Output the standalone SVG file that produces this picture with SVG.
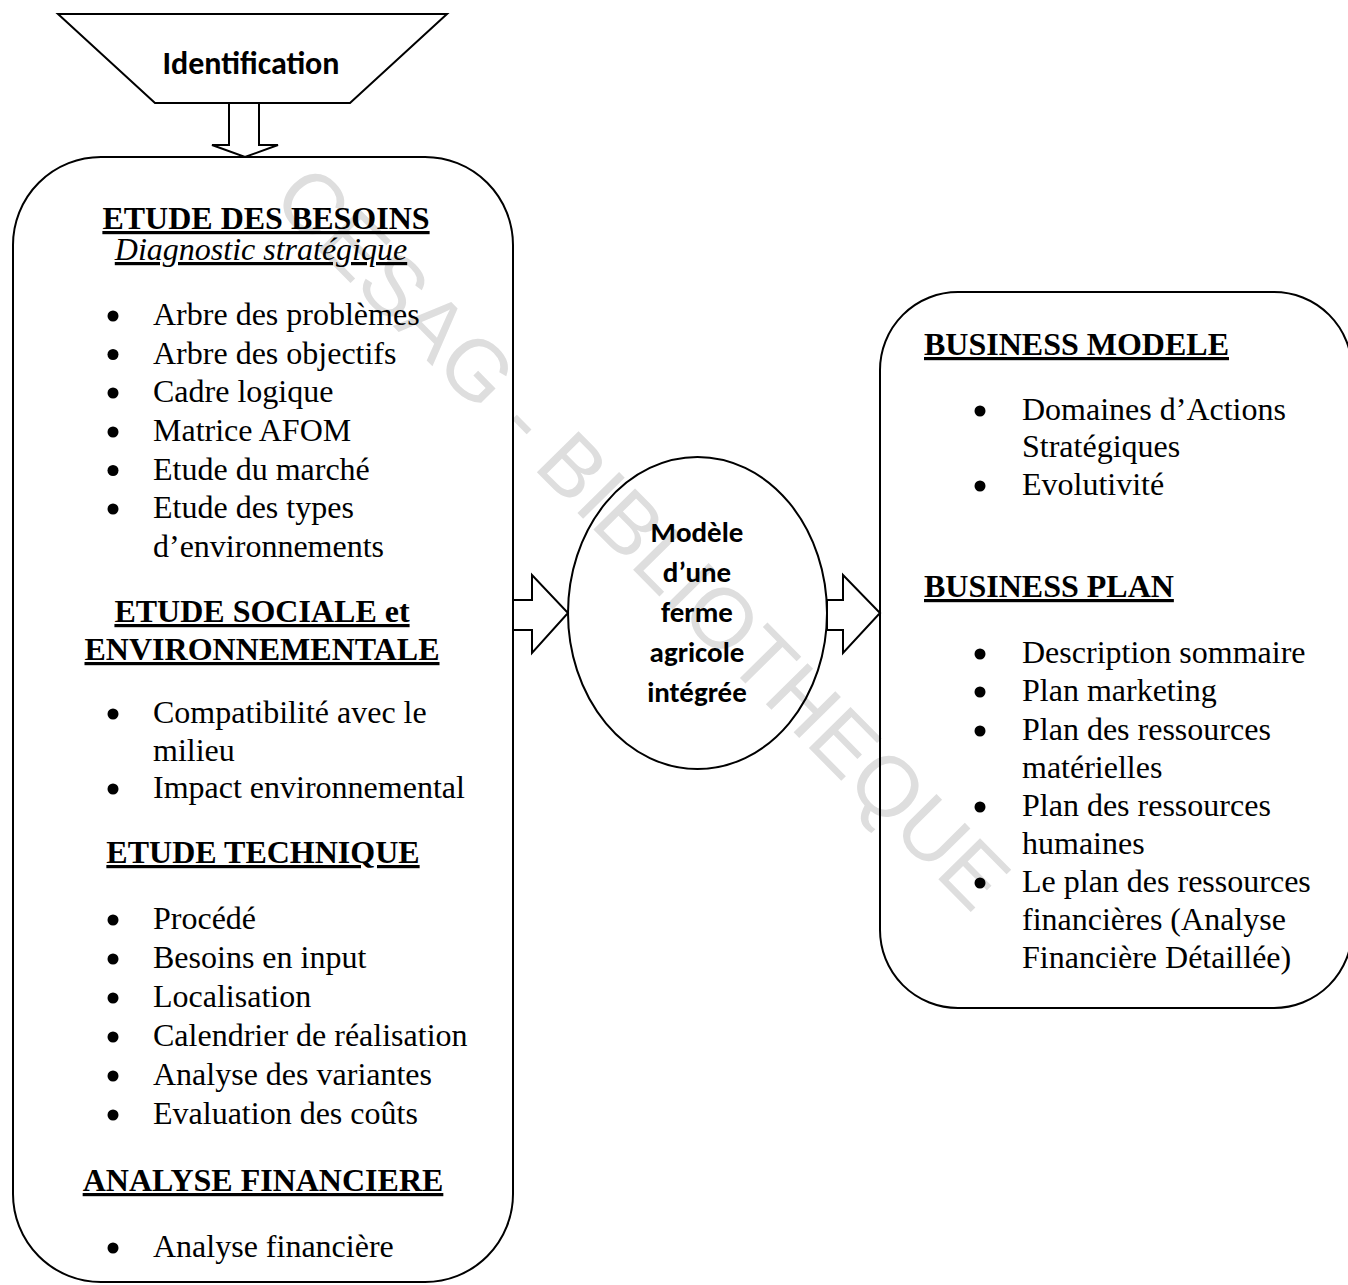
<svg xmlns="http://www.w3.org/2000/svg" width="1348" height="1285" viewBox="0 0 1348 1285">
<style>
.shape{fill:none;stroke:#000;stroke-width:2;stroke-linejoin:miter}
.t{font-family:'Liberation Serif','Times New Roman',serif;font-size:32px;fill:#000}
.h{font-family:'Liberation Serif','Times New Roman',serif;font-size:32px;font-weight:bold;text-decoration:underline;fill:#000}
.hi{font-family:'Liberation Serif','Times New Roman',serif;font-size:32px;font-style:italic;text-decoration:underline;fill:#000}
.s{font-family:Carlito,Lato,'Open Sans',sans-serif;font-weight:bold;fill:#000;text-anchor:middle}
.c{text-anchor:middle}
.wm{font-family:'Liberation Sans',Arial,sans-serif;font-size:85px;fill:#dedede;text-anchor:middle}
</style>
<defs>
<circle id="b" r="5.5" fill="#000"/>
</defs>
<rect x="0" y="0" width="1348" height="1285" fill="#fff"/>
<g id="watermark">
<text class="wm" transform="translate(643,537) rotate(45.4)" x="0" y="30">CESAG - BIBLIOTHEQUE</text>
</g>
<g id="connectors">
<polygon class="shape" points="229,103 259,103 259,145 278,145 245,157 212,145 229,145"/>
<polygon class="shape" points="513,600 532,600 532,575 568,613 532,653 532,630 513,630"/>
<polygon class="shape" points="827,600 843,600 843,575 880,613 843,653 843,630 827,630"/>
</g>
<g id="identification">
<polygon class="shape" points="58,14 447,14 350,103 155,103"/>
<text class="s" x="251" y="74" font-size="32">Identification</text>
</g>
<g id="etudes">
<rect class="shape" x="13" y="157" width="500" height="1125" rx="88" ry="88"/>
<text class="h c" x="266" y="229">ETUDE DES BESOINS</text>
<text class="hi c" x="261" y="260">Diagnostic stratégique</text>
<use href="#b" x="113" y="316"/><text class="t" x="153" y="325">Arbre des problèmes</text>
<use href="#b" x="113" y="354.5"/><text class="t" x="153" y="363.5">Arbre des objectifs</text>
<use href="#b" x="113" y="393"/><text class="t" x="153" y="402">Cadre logique</text>
<use href="#b" x="113" y="432"/><text class="t" x="153" y="441">Matrice AFOM</text>
<use href="#b" x="113" y="470.5"/><text class="t" x="153" y="479.5">Etude du marché</text>
<use href="#b" x="113" y="509"/><text class="t" x="153" y="518">Etude des types</text>
<text class="t" x="153" y="556.5">d’environnements</text>
<text class="h c" x="262" y="622">ETUDE SOCIALE et</text>
<text class="h c" x="262" y="660">ENVIRONNEMENTALE</text>
<use href="#b" x="113" y="714"/><text class="t" x="153" y="723">Compatibilité avec le</text>
<text class="t" x="153" y="760.5">milieu</text>
<use href="#b" x="113" y="789"/><text class="t" x="153" y="798">Impact environnemental</text>
<text class="h c" x="263" y="863">ETUDE TECHNIQUE</text>
<use href="#b" x="113" y="920"/><text class="t" x="153" y="929">Procédé</text>
<use href="#b" x="113" y="959"/><text class="t" x="153" y="968">Besoins en input</text>
<use href="#b" x="113" y="998"/><text class="t" x="153" y="1007">Localisation</text>
<use href="#b" x="113" y="1037"/><text class="t" x="153" y="1046">Calendrier de réalisation</text>
<use href="#b" x="113" y="1076"/><text class="t" x="153" y="1085">Analyse des variantes</text>
<use href="#b" x="113" y="1115"/><text class="t" x="153" y="1124">Evaluation des coûts</text>
<text class="h c" x="263" y="1191">ANALYSE FINANCIERE</text>
<use href="#b" x="113" y="1248"/><text class="t" x="153" y="1257">Analyse financière</text>
</g>
<g id="modele">
<ellipse class="shape" cx="697.5" cy="613" rx="129.5" ry="156"/>
<text class="s" x="697" y="542" font-size="29">Modèle</text>
<text class="s" x="697" y="582" font-size="29">d’une</text>
<text class="s" x="697" y="622" font-size="29">ferme</text>
<text class="s" x="697" y="662" font-size="29">agricole</text>
<text class="s" x="697" y="702" font-size="29">intégrée</text>
</g>
<g id="business">
<rect class="shape" x="880" y="292" width="472" height="716" rx="78" ry="78"/>
<text class="h" x="924" y="355">BUSINESS MODELE</text>
<use href="#b" x="980" y="411"/><text class="t" x="1022" y="420">Domaines d’Actions</text>
<text class="t" x="1022" y="457">Stratégiques</text>
<use href="#b" x="980" y="486"/><text class="t" x="1022" y="495">Evolutivité</text>
<text class="h" x="924" y="597">BUSINESS PLAN</text>
<use href="#b" x="980" y="654"/><text class="t" x="1022" y="663">Description sommaire</text>
<use href="#b" x="980" y="692"/><text class="t" x="1022" y="701">Plan marketing</text>
<use href="#b" x="980" y="731"/><text class="t" x="1022" y="740">Plan des ressources</text>
<text class="t" x="1022" y="778">matérielles</text>
<use href="#b" x="980" y="807"/><text class="t" x="1022" y="816">Plan des ressources</text>
<text class="t" x="1022" y="854">humaines</text>
<use href="#b" x="980" y="883"/><text class="t" x="1022" y="892">Le plan des ressources</text>
<text class="t" x="1022" y="930">financières (Analyse</text>
<text class="t" x="1022" y="968">Financière Détaillée)</text>
</g>
</svg>
